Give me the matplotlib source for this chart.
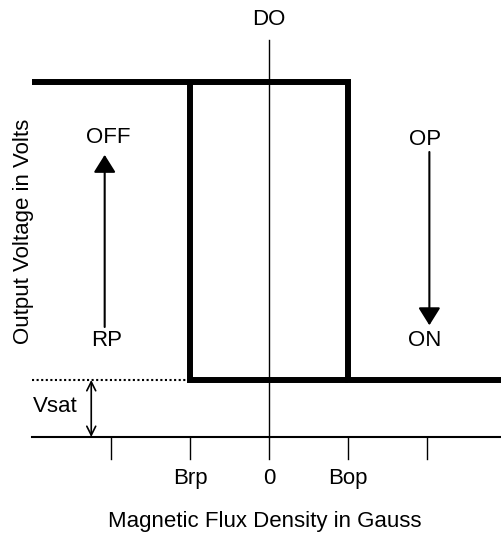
import matplotlib.pyplot as plt

plt.rcParams['font.family'] = ['Liberation Sans', 'DejaVu Sans']

# x in "gauss" steps (Brp = -1, Bop = 1), y in volts (Vsat = 1)
x_ticks = [-2, -1, 0, 1, 2]
tick_labels = ['', 'Brp', '0', 'Bop', '']
brp, bop = -1, 1
v_sat = 1.0
v_off = 6.23
x_start, x_end = -3.0, 3.2

fig = plt.figure(figsize=(5.01, 5.35), dpi=100)
ax = fig.add_axes([0, 0, 1, 1])
ax.set_xlim(-269 / 79, 232 / 79)
ax.set_ylim(-98 / 57, 437 / 57)
ax.axis('off')

# hysteresis loop (thick)
thick = dict(color='black', lw=4.3, solid_joinstyle='miter', solid_capstyle='butt')
ax.plot([x_start, bop, bop, x_end], [v_off, v_off, v_sat, v_sat], **thick)
ax.plot([brp, brp, bop], [v_off, v_sat, v_sat], **thick)

# dotted Vsat level
ax.plot([x_start, brp], [v_sat, v_sat], color='black', lw=1.5, ls=(0, (1, 1.2)))

# axes
ax.plot([x_start, x_end], [0, 0], color='black', lw=1.5)
ax.plot([0, 0], [0, 6.96], color='black', lw=1.0)
for xt, lab in zip(x_ticks, tick_labels):
    ax.plot([xt, xt], [0, -0.386], color='black', lw=1.0)
    ax.text(xt, -0.72, lab, ha='center', va='center', fontsize=16)

# Vsat double arrow
ax.annotate('', xy=(-2.25, v_sat), xytext=(-2.25, 0),
            arrowprops=dict(arrowstyle='<->', lw=1.2, mutation_scale=16,
                            shrinkA=0, shrinkB=0, color='black'))
ax.text(-2.71, 0.54, 'Vsat', ha='center', va='center', fontsize=16)

# OFF / ON arrows
head = dict(arrowstyle='-|>,head_length=0.4,head_width=0.25', lw=1.5,
            mutation_scale=27, shrinkA=0, shrinkB=0, color='black')
ax.annotate('', xy=(-2.08, 4.95), xytext=(-2.08, 1.93), arrowprops=head)
ax.annotate('', xy=(2.03, 1.96), xytext=(2.03, 5.0), arrowprops=head)
ax.text(-2.04, 5.25, 'OFF', ha='center', va='center', fontsize=16)
ax.text(-2.05, 1.70, 'RP', ha='center', va='center', fontsize=16)
ax.text(1.97, 5.22, 'OP', ha='center', va='center', fontsize=16)
ax.text(1.97, 1.70, 'ON', ha='center', va='center', fontsize=16)
ax.text(0, 7.32, 'DO', ha='center', va='center', fontsize=16)

# axis titles
ax.text(-3.11, 3.6, 'Output Voltage in Volts', ha='center', va='center',
        rotation=90, fontsize=16)
ax.text(-0.06, -1.49, 'Magnetic Flux Density in Gauss', ha='center',
        va='center', fontsize=16)

fig.savefig('out.png', dpi=100)
